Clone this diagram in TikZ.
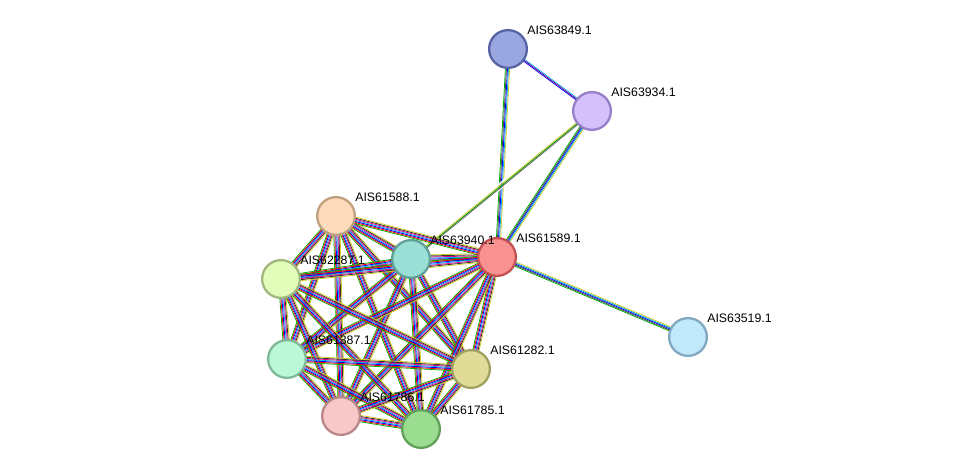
\documentclass[tikz,border=0pt]{standalone}
\usepackage{fontspec}
\setmainfont{Liberation Sans}
\usetikzlibrary{calc,positioning}

\pgfdeclarelayer{background}
\pgfsetlayers{background,main}

\tikzset{
    prot/.style={circle, draw, line width=1.3pt, minimum size=21.5pt, inner sep=0pt},
    lbl/.style={anchor=south west, inner sep=0pt, font=\fontsize{7}{8}\selectfont},
}

% colored parallel lines between two nodes
\newcommand{\edge}[3]{%
    \foreach \c [count=\i] in {#3} {
        \pgfmathsetmacro{\o}{(\i-0.5-#1*0)*0.55}
        \draw[\c, line width=0.45pt]
            ($(#2)!\o pt!90:(#1)$) -- ($(#1)!\o pt!-90:(#2)$);
    }%
}
\newcommand{\link}[3]{%
    \foreach \c [count=\i] in {#3} {
        \pgfmathsetmacro{\o}{(\i-3.5)*0.6}
        \draw[\c, line width=0.45pt]
            ($(#1)!\o pt!90:(#2)$) -- ($(#2)!\o pt!-90:(#1)$);
    }%
}

\begin{document}
\begin{tikzpicture}[x=0.02cm, y=-0.02cm]

        \useasboundingbox (0,0) rectangle (975,475);

        \node[prot, fill={rgb,255:red,154;green,166;blue,224}, draw={rgb,255:red,86;green,100;blue,164}]
            (n63849) at (508,49) {};
        \node[prot, fill={rgb,255:red,212;green,192;blue,250}, draw={rgb,255:red,150;green,126;blue,200}]
            (n63934) at (592,111) {};
        \node[prot, fill={rgb,255:red,252;green,218;blue,186}, draw={rgb,255:red,190;green,160;blue,126}]
            (n61588) at (336,216) {};
        \node[prot, fill={rgb,255:red,154;green,224;blue,214}, draw={rgb,255:red,96;green,160;blue,150}]
            (n63940) at (411,259) {};
        \node[prot, fill={rgb,255:red,248;green,146;blue,146}, draw={rgb,255:red,196;green,80;blue,80}]
            (n61589) at (497,257) {};
        \node[prot, fill={rgb,255:red,226;green,252;blue,186}, draw={rgb,255:red,160;green,184;blue,128}]
            (n62287) at (281,279) {};
        \node[prot, fill={rgb,255:red,194;green,232;blue,252}, draw={rgb,255:red,128;green,168;blue,192}]
            (n63519) at (688,337) {};
        \node[prot, fill={rgb,255:red,186;green,248;blue,216}, draw={rgb,255:red,128;green,184;blue,152}]
            (n61387) at (287,359) {};
        \node[prot, fill={rgb,255:red,224;green,220;blue,152}, draw={rgb,255:red,160;green,160;blue,96}]
            (n61282) at (471,369) {};
        \node[prot, fill={rgb,255:red,248;green,200;blue,200}, draw={rgb,255:red,184;green,136;blue,136}]
            (n61786) at (341,416) {};
        \node[prot, fill={rgb,255:red,154;green,220;blue,144}, draw={rgb,255:red,96;green,160;blue,88}]
            (n61785) at (421,429) {};

        \node[lbl] at ($(n63849)+(19,-14)$) {AIS63849.1};
        \node[lbl] at ($(n63934)+(19,-14)$) {AIS63934.1};
        \node[lbl] at ($(n61588)+(19,-14)$) {AIS61588.1};
        \node[lbl] at ($(n63940)+(19,-14)$) {AIS63940.1};
        \node[lbl] at ($(n61589)+(19,-14)$) {AIS61589.1};
        \node[lbl] at ($(n62287)+(19,-14)$) {AIS62287.1};
        \node[lbl] at ($(n63519)+(19,-14)$) {AIS63519.1};
        \node[lbl] at ($(n61387)+(19,-14)$) {AIS61387.1};
        \node[lbl] at ($(n61282)+(19,-14)$) {AIS61282.1};
        \node[lbl] at ($(n61786)+(19,-14)$) {AIS61786.1};
        \node[lbl] at ($(n61785)+(19,-14)$) {AIS61785.1};

        \begin{pgfonlayer}{background}
            \link{n63849}{n63934}{white,white,blue,violet,cyan,white}
            \link{n63849}{n61589}{white,green!70!black,black!70,blue,cyan,yellow!80!black}
            \link{n63934}{n61589}{white,green!70!black,black!70,blue,cyan,yellow!80!black}
            \link{n63934}{n63940}{white,white,yellow!80!black,green!60!black,black!60,white}
            \link{n61589}{n63519}{white,green!70!black,black!70,blue,cyan,yellow!80!black}
            \foreach \a/\b in {n61588/n63940, n61588/n61589, n61588/n62287, n61588/n61387,
                n61588/n61282, n61588/n61786, n61588/n61785, n63940/n61589, n63940/n62287,
                n63940/n61387, n63940/n61282, n63940/n61786, n63940/n61785, n61589/n62287,
                n61589/n61387, n61589/n61282, n61589/n61786, n61589/n61785, n62287/n61387,
                n62287/n61282, n62287/n61786, n62287/n61785, n61387/n61282, n61387/n61786,
                n61387/n61785, n61282/n61786, n61282/n61785, n61786/n61785}
                \link{\a}{\b}{green!70!black,red,blue,cyan,magenta,black!80,yellow!80!black};
        \end{pgfonlayer}

\end{tikzpicture}
\end{document}
